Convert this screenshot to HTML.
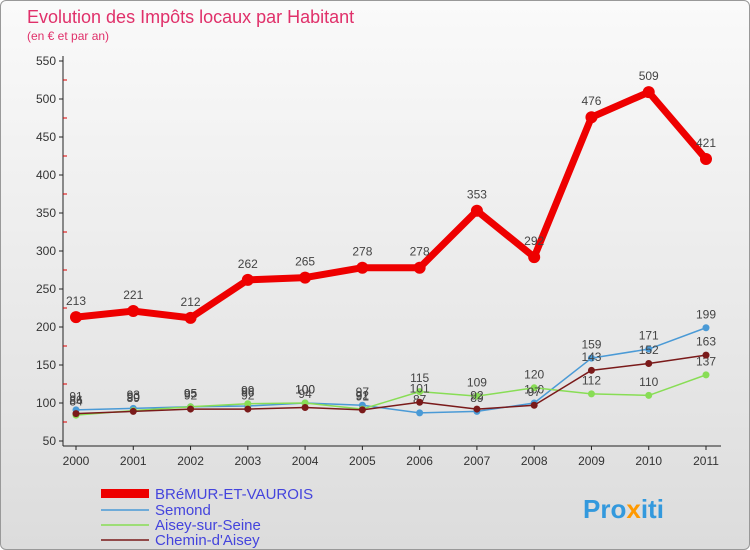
<!DOCTYPE html>
<html><head><meta charset="utf-8"><style>
body{margin:0;background:#fff;font-family:"Liberation Sans",sans-serif}
#wrap{position:relative;width:748px;height:548px;border:1px solid #999;border-radius:6px;overflow:hidden;background:linear-gradient(#fafafa,#dcdcdc)}
</style></head><body>
<div id="wrap">
<svg id="c" width="748" height="548" xmlns="http://www.w3.org/2000/svg">
<text x="26" y="22" font-size="18" fill="#e0306a">Evolution des Impôts locaux par Habitant</text>
<text x="26" y="39" font-size="12" fill="#e0306a">(en € et par an)</text>
<g id="axes"></g><g id="series"></g>
<g font-size="15">
<rect x="100" y="488" width="48" height="9" fill="#ee0000"/>
<text x="154" y="498" fill="#4444dd">BRéMUR-ET-VAUROIS</text>
<line x1="100" y1="509" x2="148" y2="509" stroke="#4a9ad6" stroke-width="1.5"/>
<text x="154" y="514" fill="#4444dd">Semond</text>
<line x1="100" y1="524" x2="148" y2="524" stroke="#88dd55" stroke-width="1.5"/>
<text x="154" y="529" fill="#4444dd">Aisey-sur-Seine</text>
<line x1="100" y1="539" x2="148" y2="539" stroke="#7a1a1a" stroke-width="1.5"/>
<text x="154" y="544" fill="#4444dd">Chemin-d'Aisey</text>
</g>
<text x="582" y="517" font-size="26" font-weight="bold" fill="#3399dd">Pro<tspan fill="#ff9900">x</tspan>iti</text>
</svg>
</div>
<script>
const years=[2000,2001,2002,2003,2004,2005,2006,2007,2008,2009,2010,2011];
const yTicks=[50,100,150,200,250,300,350,400,450,500,550];
const bremur=[213,221,212,262,265,278,278,353,292,476,509,421];
const semond=[91,93,95,96,100,97,87,89,100,159,171,199];
const aisey=[84,90,95,99,100,92,115,109,120,112,110,137];
const chemin=[86,89,92,92,94,91,101,92,97,143,152,163];
const NS="http://www.w3.org/2000/svg";
const xS=i=>75+i*(630/11);
const yS=v=>440-(v-50)*0.76;
function mk(t,a,p){const e=document.createElementNS(NS,t);for(const k in a)e.setAttribute(k,a[k]);p.appendChild(e);return e;}
const ax=document.getElementById('axes');
const yl=mk('line',{x1:62,y1:55,x2:62,y2:445,stroke:'#222'},ax);


const xl=mk('line',{x1:62,y1:445,x2:720,y2:445,stroke:'#222'},ax);


yTicks.forEach(v=>{const y=yS(v);
mk('line',{x1:58,y1:y,x2:62,y2:y,stroke:'#222'},ax);
if(v<550)mk('line',{x1:62,y1:y-19,x2:66,y2:y-19,stroke:'#d00'},ax);
const t=mk('text',{x:55,y:y+4,'text-anchor':'end','font-size':12,fill:'#333'},ax);t.textContent=v;

});
years.forEach((yr,i)=>{const x=xS(i);mk('line',{x1:x,y1:445,x2:x,y2:449,stroke:'#222'},ax);
const t=mk('text',{x:x,y:464,'text-anchor':'middle','font-size':12,fill:'#333'},ax);t.textContent=yr;

});
const sg=document.getElementById('series');
function draw(data,color,w,r,name){
const g=mk('g',{},sg);


mk('polyline',{points:data.map((v,i)=>xS(i)+','+yS(v)).join(' '),fill:'none',stroke:color,'stroke-width':w,'stroke-linejoin':'round'},g);
data.forEach((v,i)=>{const c=mk('circle',{cx:xS(i),cy:yS(v),r:r,fill:color},g);


const t=mk('text',{x:xS(i),y:yS(v)-(r+6),'text-anchor':'middle','font-size':12,fill:'#444'},g);t.textContent=v;

});}
draw(semond,'#4a9ad6',1.5,3.5,'series-semond');
draw(aisey,'#88dd55',1.5,3.5,'series-aisey');
draw(chemin,'#7a1a1a',1.5,3.5,'series-chemin');
draw(bremur,'#ee0000',7,6,'series-bremur');
</script>
</body></html>
